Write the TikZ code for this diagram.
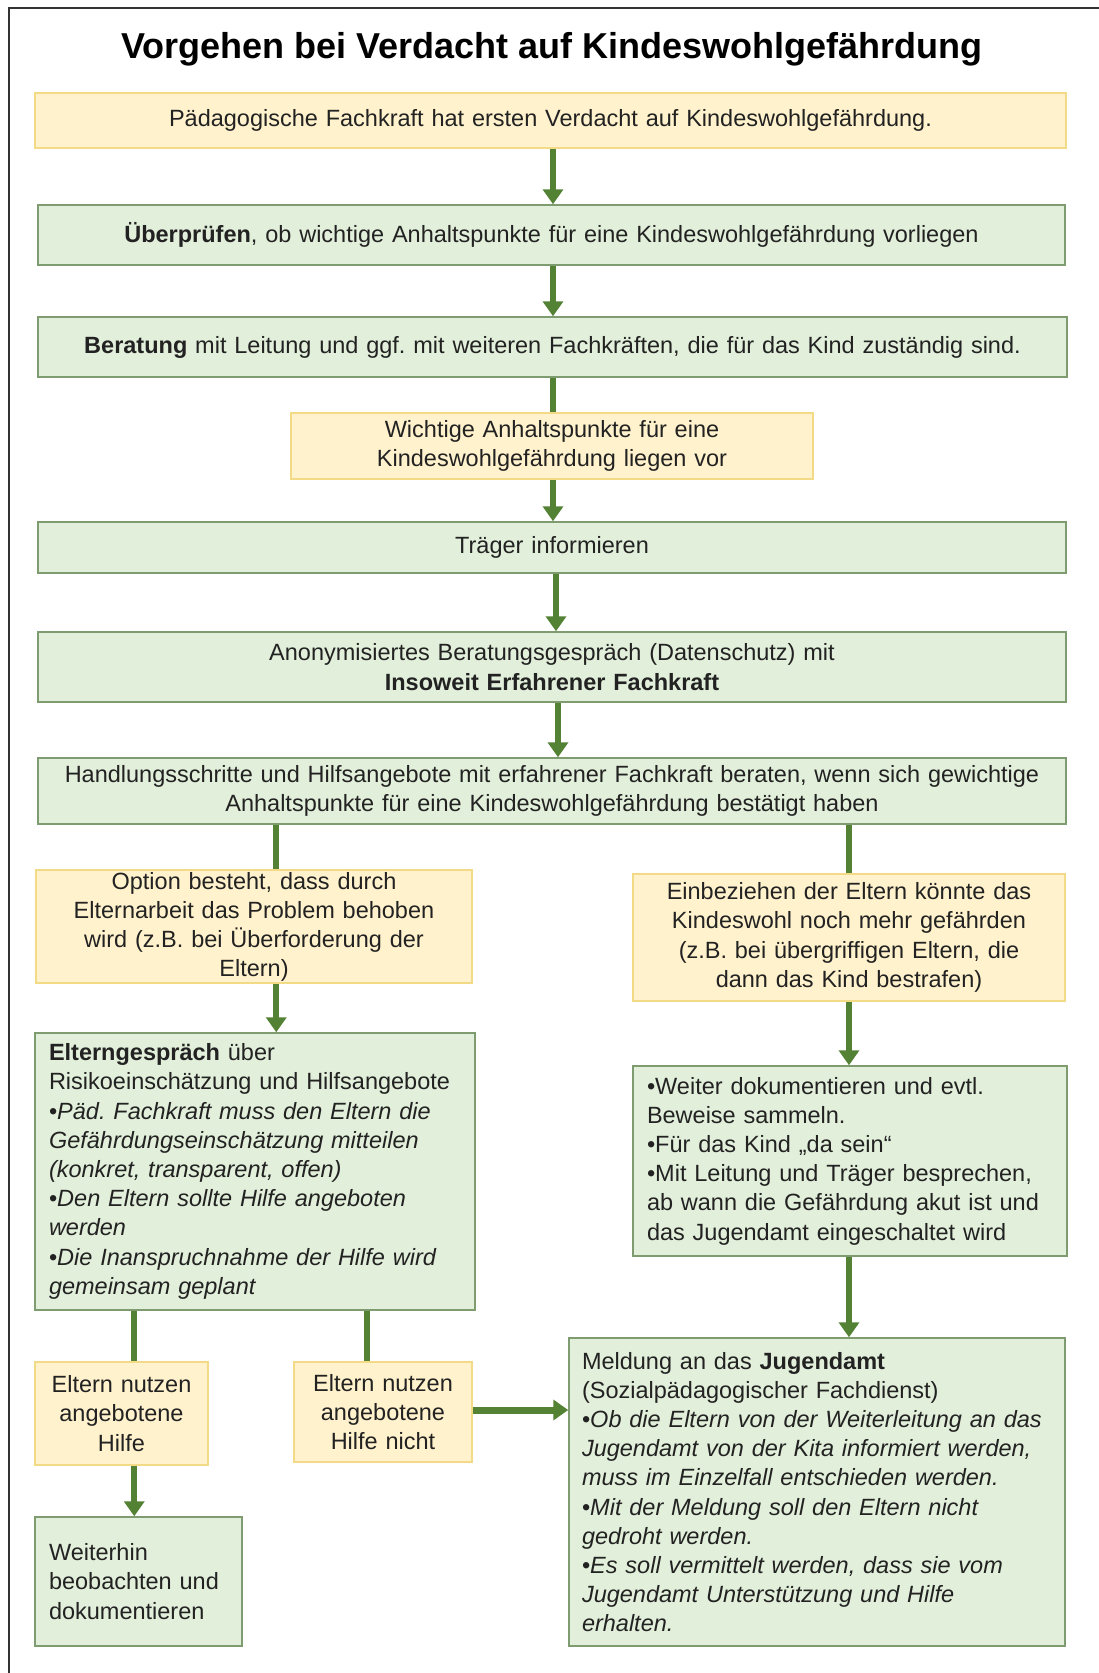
\documentclass[tikz,border=0pt]{standalone}
\usepackage{fontspec}
\setmainfont{Liberation Sans}
\usetikzlibrary{arrows.meta,calc}
\definecolor{yfill}{HTML}{FFF2CC}
\definecolor{ydraw}{HTML}{F3DA86}
\definecolor{gfill}{HTML}{E2EFDA}
\definecolor{gdraw}{HTML}{7F9C70}
\definecolor{arrgreen}{HTML}{548235}
\definecolor{txt}{HTML}{222222}
\definecolor{framec}{HTML}{333333}
\newcommand\mybody{\fontsize{23.5}{29.2}\selectfont}
\frenchspacing
\begin{document}
\begin{tikzpicture}[x=1pt,y=-1pt,
  box/.style={line width=1.5pt,inner ysep=0pt,inner xsep=0pt,font=\mybody,text=txt},
  ybox/.style={box,draw=ydraw,fill=yfill},
  gbox/.style={box,draw=gdraw,fill=gfill},
  lbox/.style={inner xsep=14pt,align=left},
  cbox/.style={align=center},
  arr/.style={draw=arrgreen,line width=6pt,-{Triangle[length=15pt,width=20pt]}},
  conn/.style={draw=arrgreen,line width=6pt}
]
\useasboundingbox (0,0) rectangle (1099,1673);
\fill[white] (0,0) rectangle (1099,1673);
\draw[framec,line width=2pt] (9,1673) -- (9,8) -- (1099,8);

\node[font=\fontsize{36}{40}\selectfont\bfseries,anchor=base,text=black] (title) at (552,58)
  {Vorgehen bei Verdacht auf Kindeswohlgefährdung};

\node[ybox,cbox,minimum width=1031pt,minimum height=55pt,text width=1010pt] (b1) at (550.5,120.5)
  {Pädagogische Fachkraft hat ersten Verdacht auf Kindeswohlgefährdung.};
\node[gbox,cbox,minimum width=1027pt,minimum height=60pt,text width=1010pt] (b2) at (551.5,235)
  {\textbf{Überprüfen}, ob wichtige Anhaltspunkte für eine Kindeswohlgefährdung vorliegen};
\node[gbox,cbox,minimum width=1029pt,minimum height=60pt,text width=1015pt] (b3) at (552.5,347)
  {\textbf{Beratung} mit Leitung und ggf. mit weiteren Fachkräften, die für das Kind zuständig sind.};
\node[ybox,cbox,minimum width=522pt,minimum height=66pt,text width=505pt] (b4) at (552,446)
  {Wichtige Anhaltspunkte für eine\\Kindeswohlgefährdung liegen vor};
\node[gbox,cbox,minimum width=1028pt,minimum height=51pt,text width=1010pt] (b5) at (552,547.5)
  {Träger informieren};
\node[gbox,cbox,minimum width=1028pt,minimum height=70pt,text width=1010pt] (b6) at (552,667)
  {Anonymisiertes Beratungsgespräch (Datenschutz) mit\\\textbf{Insoweit Erfahrener Fachkraft}};
\node[gbox,cbox,minimum width=1028pt,minimum height=66pt,text width=1020pt] (b7) at (552,791)
  {Handlungsschritte und Hilfsangebote mit erfahrener Fachkraft beraten, wenn sich gewichtige\\Anhaltspunkte für eine Kindeswohlgefährdung bestätigt haben};

\node[ybox,cbox,minimum width=436pt,minimum height=113pt,text width=425pt,font=\fontsize{23.5}{29}\selectfont] (b8) at (254,926.5)
  {Option besteht, dass durch\\Elternarbeit das Problem behoben\\wird (z.B. bei Überforderung der\\Eltern)};
\node[ybox,cbox,minimum width=432pt,minimum height=127pt,text width=420pt] (b10) at (849,937.5)
  {Einbeziehen der Eltern könnte das\\Kindeswohl noch mehr gefährden\\(z.B. bei übergriffigen Eltern, die\\dann das Kind bestrafen)};

\node[gbox,lbox,minimum width=440pt,minimum height=277pt,text width=412pt] (b9) at (255,1171.5)
  {\textbf{Elterngespräch} über\\
   Risikoeinschätzung und Hilfsangebote\\
   •\textit{Päd. Fachkraft muss den Eltern die}\\
   \textit{Gefährdungseinschätzung mitteilen}\\
   \textit{(konkret, transparent, offen)}\\
   •\textit{Den Eltern sollte Hilfe angeboten}\\
   \textit{werden}\\
   •\textit{Die Inanspruchnahme der Hilfe wird}\\
   \textit{gemeinsam geplant}};
\node[gbox,lbox,minimum width=434pt,minimum height=190pt,text width=406pt] (b11) at (850,1161)
  {•Weiter dokumentieren und evtl.\\
   Beweise sammeln.\\
   •Für das Kind „da sein“\\
   •Mit Leitung und Träger besprechen,\\
   ab wann die Gefährdung akut ist und\\
   das Jugendamt eingeschaltet wird};

\node[ybox,cbox,minimum width=173pt,minimum height=103pt,text width=165pt] (b12) at (121.5,1413.5)
  {Eltern nutzen\\angebotene\\Hilfe};
\node[ybox,cbox,minimum width=178pt,minimum height=100pt,text width=170pt] (b13) at (383,1412)
  {Eltern nutzen\\angebotene\\Hilfe nicht};
\node[gbox,lbox,minimum width=207pt,minimum height=129pt,text width=179pt] (b14) at (138.5,1581.5)
  {Weiterhin\\beobachten und\\dokumentieren};
\node[gbox,lbox,minimum width=496pt,minimum height=308pt,text width=470pt,inner xsep=13pt] (b15) at (817,1492)
  {Meldung an das \textbf{Jugendamt}\\
   (Sozialpädagogischer Fachdienst)\\
   •\textit{Ob die Eltern von der Weiterleitung an das}\\
   \textit{Jugendamt von der Kita informiert werden,}\\
   \textit{muss im Einzelfall entschieden werden.}\\
   •\textit{Mit der Meldung soll den Eltern nicht}\\
   \textit{gedroht werden.}\\
   •\textit{Es soll vermittelt werden, dass sie vom}\\
   \textit{Jugendamt Unterstützung und Hilfe}\\
   \textit{erhalten.}};

% connectors
\draw[arr] ($(b1.south)+(2.5,0)$) -- ($(b2.north)+(1.5,0)$);
\draw[arr] ($(b2.south)+(1.5,0)$) -- ($(b3.north)+(0.5,0)$);
\draw[conn] ($(b3.south)+(0.5,0)$) -- ($(b4.north)+(1,0)$);
\draw[arr] ($(b4.south)+(1,0)$) -- ($(b5.north)+(1,0)$);
\draw[arr] ($(b5.south)+(4,0)$) -- ($(b6.north)+(4,0)$);
\draw[arr] ($(b6.south)+(6,0)$) -- ($(b7.north)+(6,0)$);
\draw[conn] ($(b7.south west)+(239,0)$) -- ($(b8.north west)+(241,0)$);
\draw[conn] (b10.north |- b7.south) -- (b10.north);
\draw[arr] ($(b8.south west)+(241,0)$) -- ($(b9.north west)+(242,0)$);
\draw[arr] (b10.south) -- (b10.south |- b11.north);
\draw[arr] (b10.south |- b11.south) -- (b10.south |- b15.north);
\draw[conn] ($(b9.south west)+(100,0)$) -- ($(b12.north west)+(100,0)$);
\draw[conn] ($(b9.south west)+(333,0)$) -- ($(b13.north west)+(74,0)$);
\draw[arr] ($(b12.south west)+(100,0)$) -- ($(b14.north west)+(100,0)$);
\draw[arr,line width=7pt] ($(b13.east)+(0,-2)$) -- ($(b15.west |- b13.east)+(0,-2)$);
\end{tikzpicture}
\end{document}
